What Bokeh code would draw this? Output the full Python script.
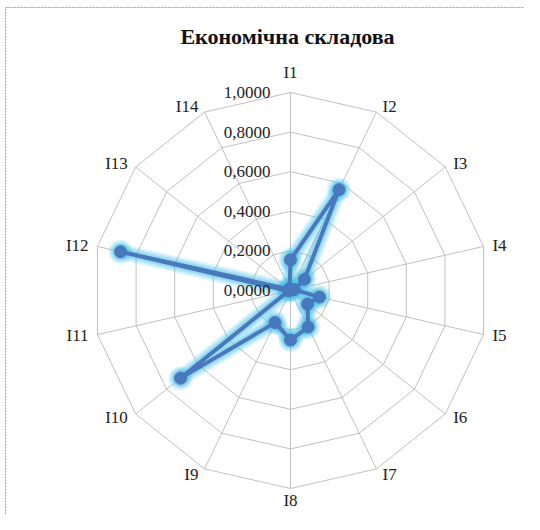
import numpy as np
from bokeh.plotting import figure
from bokeh.models import ColumnDataSource
from bokeh.core.properties import value
from bokeh.embed import file_html
from bokeh.resources import INLINE

# ---- data ----
title_text = "Економічна складова"
categories = ["I1", "I2", "I3", "I4", "I5", "I6", "I7",
              "I8", "I9", "I10", "I11", "I12", "I13", "I14"]
values = [0.155, 0.565, 0.09, 0.02, 0.15, 0.11, 0.205,
          0.25, 0.18, 0.71, 0.01, 0.88, 0.01, 0.01]
ring_values = [0.0, 0.2, 0.4, 0.6, 0.8, 1.0]
ring_labels = ["0,0000", "0,2000", "0,4000", "0,6000", "0,8000", "1,0000"]

# ---- geometry ----
W, H = 524, 514
R_PX = 198.0           # pixels per data unit
CX, CY = 290.0, 290.0  # centre in figure pixels
px = 1.0 / R_PX


def dxp(x):
    return (x - CX) / R_PX


def dyp(y):
    return (CY - y) / R_PX


x0, x1 = dxp(0), dxp(W)
y0, y1 = dyp(H), dyp(0)

p = figure(width=W, height=H, x_range=(x0, x1), y_range=(y0, y1),
           output_backend="svg", toolbar_location=None,
           min_border=0, match_aspect=False)
p.axis.visible = False
p.grid.visible = False
p.outline_line_color = None
p.background_fill_color = "white"

n = len(categories)
ang = np.arange(n) * 2 * np.pi / n
sx, cy = np.sin(ang), np.cos(ang)

FONT = value("Liberation Serif")
grid_col = "#c0c0c0"
for rv in ring_values[1:]:
    xs = list(rv * sx) + [rv * sx[0]]
    ys = list(rv * cy) + [rv * cy[0]]
    p.line(xs, ys, line_color=grid_col, line_width=1)
p.segment(x0=[0] * n, y0=[0] * n, x1=list(sx), y1=list(cy),
          line_color=grid_col, line_width=1)

# dotted chart-area border (top and left)
p.line([dxp(5), x1], [dyp(7), dyp(7)], line_color="#a0a0a0",
       line_width=1.2, line_dash="2 1")
p.line([dxp(5), dxp(5)], [y0, dyp(7)], line_color="#a0a0a0",
       line_width=1.2, line_dash="2 1")

# data series
v = np.array(values)
dx = list(v * sx) + [v[0] * sx[0]]
dy = list(v * cy) + [v[0] * cy[0]]
src = ColumnDataSource(dict(x=list(v * sx), y=list(v * cy)))

glow = "#4cc3e6"
for w, a in [(16, 0.18), (12, 0.25), (8, 0.35)]:
    p.line(dx, dy, line_color=glow, line_width=w, line_alpha=a,
           line_join="round", line_cap="round")
for s, a in [(24, 0.22), (20, 0.3), (16, 0.4)]:
    p.scatter("x", "y", source=src, size=s, fill_color=glow, fill_alpha=a,
              line_color=None)
main = "#4878be"
p.line(dx, dy, line_color=main, line_width=4, line_join="round")
p.scatter("x", "y", source=src, size=12, fill_color=main, line_color=main)

# ring labels
p.text(x=[-20 * px] * len(ring_values), y=ring_values, text=ring_labels,
       text_font=FONT, text_font_size="17px", text_color="#222222",
       text_align="right", text_baseline="middle")

# category labels
lx, ly, la, lb = [], [], [], []
for i in range(n):
    s, c = sx[i], cy[i]
    if abs(s) < 0.1:
        lx.append(s)
        if c > 0:
            ly.append(c + 20 * px)
            lb.append("middle")
        else:
            ly.append(c - 2 * px)
            lb.append("top")
        la.append("center")
    else:
        gap = (4 + 5 * abs(s)) * px
        lx.append(s + np.sign(s) * gap)
        ly.append(c + c * 6 * px)
        la.append("left" if s > 0 else "right")
        lb.append("middle")
p.text(x=lx, y=ly, text=categories, text_font=FONT, text_font_size="17px",
       text_color="#222222", text_align=la, text_baseline=lb)

# title
p.text(x=[dxp(287)], y=[dyp(36)], text=[title_text],
       text_font=FONT, text_font_size="22px", text_font_style="bold",
       text_color="#111111", text_align="center", text_baseline="middle")

open("out.html", "w").write(file_html(p, INLINE))
